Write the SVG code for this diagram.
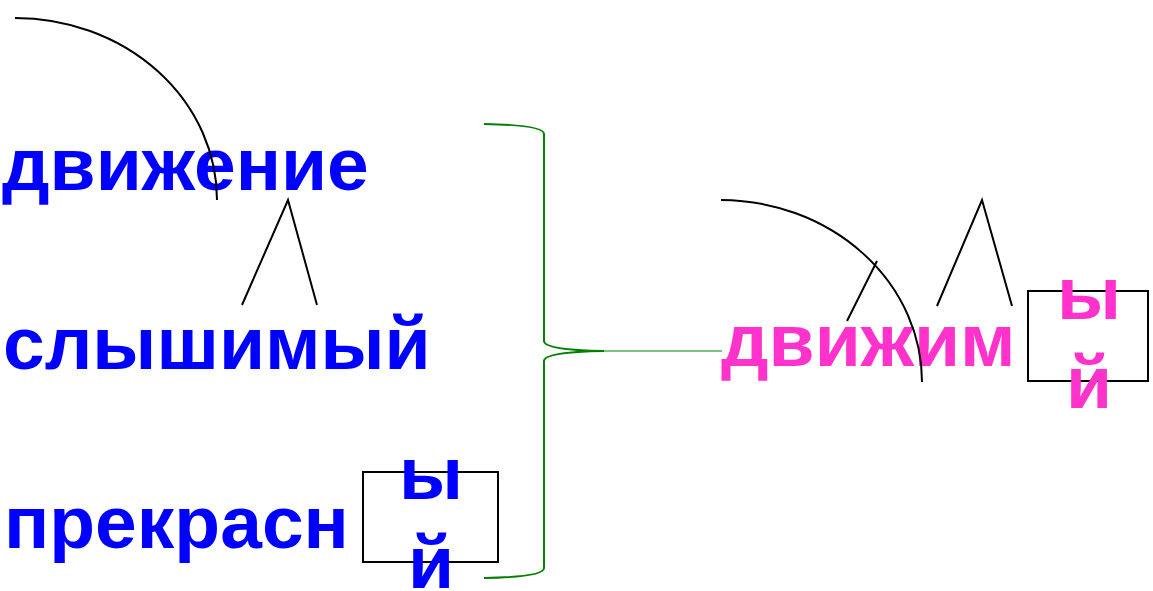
<svg xmlns="http://www.w3.org/2000/svg" width="1153" height="591" viewBox="0 0 1153 591">
<style>
.t{font-family:"Liberation Sans",Arial,sans-serif;font-weight:bold;font-size:75px}
.b{fill:#0000FF}
.p{fill:#FF33CC}
.ln{fill:none;stroke:#000;stroke-width:2}
.box{fill:none;stroke:#000;stroke-width:2}
.br{fill:none;stroke:#008000;stroke-width:2}
</style>
<rect width="1153" height="591" fill="#fff"/>
<g id="word-dvizhenie"><text class="t b" x="2" y="190">движение</text></g>
<g id="word-slyshimy"><text class="t b" x="3" y="369">слышимый</text></g>
<g id="word-prekrasny">
<text class="t b" x="4" y="548">прекрасн</text>
<rect class="box" x="363" y="472" width="135" height="90"/>
<text class="t b" x="431" y="499" text-anchor="middle">ы</text>
<text class="t b" x="431" y="588" text-anchor="middle">й</text>
</g>
<g id="word-dvizhimy">
<text class="t p" x="721" y="366">движим</text>
<rect class="box" x="1028" y="291" width="120" height="90"/>
<text class="t p" x="1089" y="319" text-anchor="middle">ы</text>
<text class="t p" x="1089" y="408" text-anchor="middle">й</text>
</g>
<g id="connectors">
<path class="ln" d="M15,18 A202,182 0 0 1 217,200"/>
<path class="ln" d="M242,305 L288,200 L317,305"/>
<path class="br" d="M484,124 Q544,125 544,134 L544,341 Q544,350 604,351 Q544,352 544,361 L544,568 Q544,577 484,578"/>
<line x1="604" y1="351" x2="722" y2="351" stroke="#008000" stroke-width="1"/>
<path class="ln" d="M721,200 A202,182 0 0 1 922,382"/>
<line class="ln" x1="847" y1="321" x2="877" y2="261"/>
<path class="ln" d="M937,306 L982,200 L1012,306"/>
</g>
</svg>
